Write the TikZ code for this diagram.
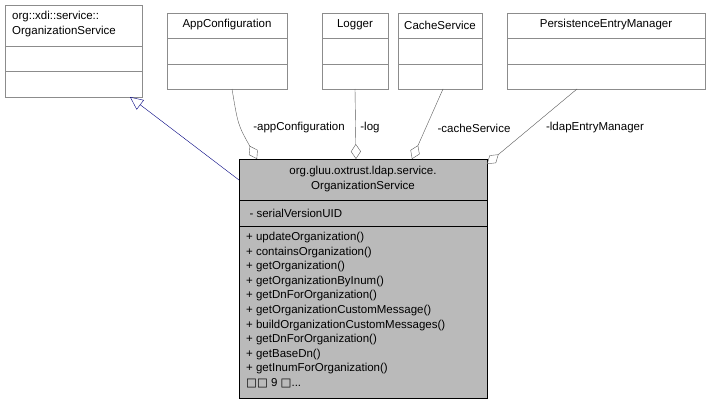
\documentclass[tikz,border=0pt]{standalone}
\usepackage{fontspec}
\setmainfont{Liberation Sans}
\newfontfamily\symfont{DejaVu Sans}
\usetikzlibrary{arrows.meta}

\begin{document}
\begin{tikzpicture}[x=1pt, y=-1pt, font=\fontsize{11.5}{14.6}\selectfont,
	box/.style={draw=black!45, fill=white, inner sep=0pt, anchor=north west},
	agg/.style={draw=black!65, -{Diamond[open, length=15pt, width=10pt]}},
	lbl/.style={fill=white, inner sep=1pt}]
	\useasboundingbox (0,0) rectangle (711,404);

	% Define the class boxes
	\node[box, minimum width=137pt, minimum height=92pt] (base) at (5,5) {};
	\node[box, minimum width=120pt, minimum height=76pt] (app) at (167,13) {};
	\node[box, minimum width=66pt, minimum height=76pt] (log) at (322,13) {};
	\node[box, minimum width=84pt, minimum height=76pt] (cache) at (398,13) {};
	\node[box, minimum width=198pt, minimum height=76pt] (pem) at (507,13) {};
	\node[box, draw=black, fill=black!27, minimum width=248pt, minimum height=239pt] (main) at (239,159) {};

	% Compartments
	\draw[black!45] (5,46) -- (142,46) (5,71) -- (142,71);
	\foreach \a/\b in {167/287, 322/388, 398/482, 507/705}
		\draw[black!45] (\a,38) -- (\b,38) (\a,64) -- (\b,64);
	\draw (239,200) -- (487,200) (239,226) -- (487,226);

	% Texts
	\node[align=left, anchor=north west, inner sep=0pt] at (12,11) {org::xdi::service::\\OrganizationService};
	\node at (227,25) {AppConfiguration};
	\node at (355,25) {Logger};
	\node at (440,25) {CacheService};
	\node at (606,25) {PersistenceEntryManager};
	\node[align=center] at (363,179) {org.gluu.oxtrust.ldap.service.\\OrganizationService};
	\node[anchor=west] at (246,213) {- serialVersionUID};
	\node[align=left, anchor=north west, inner sep=0pt] at (246,232)
		{+ updateOrganization()\\+ containsOrganization()\\+ getOrganization()\\+ getOrganizationByInum()\\+ getDnForOrganization()\\+ getOrganizationCustomMessage()\\+ buildOrganizationCustomMessages()\\+ getDnForOrganization()\\+ getBaseDn()\\+ getInumForOrganization()\\{\symfont□□} 9 {\symfont□}...};

	% Draw the connectors
	\draw[draw=blue!50!black, -{Triangle[open, length=13pt, width=12pt]}] (main.west |- 0,180) -- (130,97);
	\draw[agg] (232,89) .. controls (238,125) .. (257,159);
	\draw[agg] (355,89) -- (356,159);
	\draw[agg] (443,89) -- (412,159);
	\draw[agg] (577,89) -- (487,164);
	\node[lbl] at (299,128) {-appConfiguration};
	\node[lbl] at (370,128) {-log};
	\node[lbl] at (474,128) {-cacheService};
	\node[lbl] at (595,128) {-ldapEntryManager};
\end{tikzpicture}
\end{document}
